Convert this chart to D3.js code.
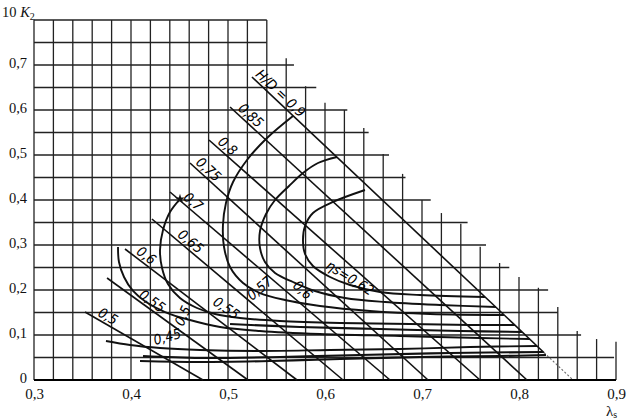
<!DOCTYPE html>
<html><head><meta charset="utf-8">
<script src="https://cdn.jsdelivr.net/npm/d3@7"></script>
<style>body{margin:0;background:#fff}svg{display:block}</style>
</head><body><svg id="c" width="630" height="420"></svg>
<script>
// ---- axis ticks ----
const xTickValues = [0.3, 0.4, 0.5, 0.6, 0.7, 0.8, 0.9];
const xTickLabels = ["0,3", "0,4", "0,5", "0,6", "0,7", "0,8", "0,9"];
const yTickValues = [0, 0.1, 0.2, 0.3, 0.4, 0.5, 0.6, 0.7];
const yTickLabels = ["0", "0,1", "0,2", "0,3", "0,4", "0,5", "0,6", "0,7"];

// ---- stepped grid ----
const gridX = [0.30,0.32,0.34,0.36,0.38,0.40,0.42,0.44,0.46,0.48,0.50,0.52,0.54,
               0.56,0.58,0.60,0.62,0.64,0.66,0.68,0.70,0.72,0.74,0.76,0.78,0.80,0.82,0.84,0.86,0.88,0.90];
const gridXTop = [0.8,0.8,0.8,0.8,0.8,0.8,0.8,0.8,0.8,0.8,0.8,0.8,0.8,
                  0.715,0.653,0.616,0.60,0.56,0.502,0.458,0.40,0.371,0.347,0.296,0.26,0.229,0.205,0.162,0.109,0.091,0.085];
const gridY = [0,0.05,0.10,0.15,0.20,0.25,0.30,0.35,0.40,0.45,0.50,0.55,0.60,0.65,0.70,0.75,0.80];
const gridYEnd = [0.9,0.898,0.864,0.84,0.83,0.79,0.766,0.747,0.709,0.683,0.666,0.645,0.623,0.591,0.568,0.54,0.54];

// ---- H/D lines ----
const hdValues = [0.9, 0.85, 0.8, 0.75, 0.7, 0.65, 0.6, 0.55, 0.5];
const hdLabels = ["H/D = 0,9", "0,85", "0,8", "0,75", "0,7", "0,65", "0,6", "0,55", "0,5"];
const hdStart = [[0.5247,0.6733],[0.5021,0.6067],[0.4804,0.5333],[0.4608,0.4822],[0.4402,0.4178],
                 [0.4216,0.3578],[0.3938,0.2911],[0.3753,0.2267],[0.3526,0.1511]];
const hdEnd = [[0.8557,0],[0.8082,0],[0.7598,0],[0.7062,0],[0.6670,0],[0.6186,0],[0.5711,0],[0.5206,0],[0.4742,0]];

// ---- efficiency (eta_s) curves ----
const eta062 = [[0.6412,0.4222],[0.6082,0.3956],[0.5876,0.3711],[0.5794,0.3422],[0.5773,0.3111],[0.5794,0.2800],
                [0.5876,0.2533],[0.6052,0.2289],[0.6258,0.2111],[0.6567,0.1956],[0.6979,0.1889],[0.7649,0.1844]];
const eta060 = [[0.6124,0.4956],[0.5928,0.4822],[0.5773,0.4600],[0.5629,0.4311],[0.5485,0.4000],[0.5392,0.3689],
                [0.5330,0.3311],[0.5330,0.2933],[0.5381,0.2622],[0.5485,0.2378],[0.5670,0.2178],[0.5897,0.1978],
                [0.6206,0.1822],[0.6619,0.1733],[0.7186,0.1667],[0.7763,0.1622]];
const eta057 = [[0.5670,0.5867],[0.5402,0.5378],[0.5196,0.4889],[0.5052,0.4400],[0.4979,0.3933],[0.4948,0.3444],
                [0.4959,0.2956],[0.5021,0.2511],[0.5155,0.2156],[0.5330,0.1933],[0.5588,0.1778],[0.5948,0.1644],
                [0.6464,0.1533],[0.7082,0.1467],[0.7845,0.1444]];
const eta055 = [[0.4505,0.4022],[0.4402,0.3733],[0.4330,0.3333],[0.4299,0.2889],[0.4320,0.2489],[0.4381,0.2133],
                [0.4505,0.1822],[0.4680,0.1600],[0.4866,0.1467],[0.5124,0.1378],[0.5536,0.1311],[0.6155,0.1267],
                [0.6876,0.1244],[0.7495,0.1222],[0.7959,0.1222]];
const eta050 = [[0.3866,0.2956],[0.3876,0.2622],[0.3928,0.2289],[0.4021,0.1978],[0.4155,0.1733],[0.4351,0.1511],
                [0.4608,0.1333],[0.4918,0.1178],[0.5330,0.1089],[0.5948,0.1022],[0.6773,0.0978],[0.7598,0.0933],[0.8113,0.0911]];
const eta045 = [[0.3742,0.0867],[0.3990,0.0778],[0.4299,0.0711],[0.4711,0.0667],[0.5330,0.0644],[0.6052,0.0667],
                [0.6773,0.0689],[0.7495,0.0733],[0.8186,0.0756]];
const extraA = [[0.5021,0.1244],[0.5742,0.1178],[0.6567,0.1133],[0.7392,0.1089],[0.8031,0.1067]];
const extraB = [[0.4124,0.0533],[0.4711,0.0489],[0.5536,0.0511],[0.6361,0.0556],[0.7289,0.0600],[0.8247,0.0622]];
const extraC = [[0.4093,0.0422],[0.4711,0.0400],[0.5433,0.0422],[0.6155,0.0467],[0.6979,0.0511],[0.7804,0.0533],[0.8278,0.0556]];
const etaLabelText = ["ηs=0,62", "0,6", "0,57", "0,55", "0,5", "0,45"];
const etaLabelAt = [[0.600,0.249],[0.566,0.207],[0.5247,0.1756],[0.4835,0.169],[0.4536,0.1178],[0.4247,0.0778]];
const markerPoint = [0.4505, 0.4022];

// ---- drawing ----
const svg = d3.select("#c");
const x = d3.scaleLinear().domain([0.3, 0.9]).range([34, 616]);
const y = d3.scaleLinear().domain([0, 0.8]).range([380, 20]);

const serif = "'Liberation Serif','Times New Roman',serif";
const narrow = "'Liberation Sans Narrow','DejaVu Sans Condensed',sans-serif";

const g = svg.append("g");
// vertical grid lines
g.selectAll("line.vx").data(gridX).enter().append("line")
  .attr("x1", d => x(d)).attr("x2", d => x(d))
  .attr("y1", y(0)).attr("y2", (d, i) => y(gridXTop[i]))
  .attr("stroke", "#222").attr("stroke-width", 1.3);
// horizontal grid lines
g.selectAll("line.hy").data(gridY).enter().append("line")
  .attr("y1", d => y(d)).attr("y2", d => y(d))
  .attr("x1", x(0.3)).attr("x2", (d, i) => x(gridYEnd[i]))
  .attr("stroke", "#222").attr("stroke-width", 1.3);
// baseline emphasis
g.append("line").attr("x1", x(0.3)).attr("x2", x(0.9)).attr("y1", y(0)).attr("y2", y(0))
  .attr("stroke", "#000").attr("stroke-width", 1.8);

// axes (labels only)
const ax = svg.append("g").attr("transform", `translate(0,${y(0)})`)
  .call(d3.axisBottom(x).tickValues(xTickValues).tickSize(0).tickPadding(8)
        .tickFormat((d, i) => xTickLabels[i]));
ax.select(".domain").remove();
ax.selectAll("text").attr("font-family", serif).attr("font-size", 15).attr("fill", "#111");

const ay = svg.append("g").attr("transform", `translate(${x(0.3)},0)`)
  .call(d3.axisLeft(y).tickValues(yTickValues).tickSize(0).tickPadding(7)
        .tickFormat((d, i) => yTickLabels[i]));
ay.select(".domain").remove();
ay.selectAll("text").attr("font-family", serif).attr("font-size", 14.5).attr("fill", "#111").attr("dy", "0.2em");

// axis titles
const t1 = svg.append("text").attr("x", 2).attr("y", 17).attr("font-family", serif).attr("font-size", 14.5).attr("fill", "#111");
t1.append("tspan").text("10 ");
t1.append("tspan").attr("font-style", "italic").text("K");
t1.append("tspan").attr("font-size", 10).attr("dy", 3).text("2");
const t2 = svg.append("text").attr("x", 606).attr("y", 416).attr("font-family", serif).attr("font-size", 15).attr("fill", "#111");
t2.append("tspan").text("λ");
t2.append("tspan").attr("font-size", 10).attr("dy", 2).text("s");

// H/D lines
const hdLabelAlong = [1, 7, 8, 4, 14, 30, 11, 36, 12];
hdValues.forEach((v, i) => {
  const p0 = [x(hdStart[i][0]), y(hdStart[i][1])];
  const p1 = [x(hdEnd[i][0]), y(hdEnd[i][1])];
  const dx = p1[0] - p0[0], dy = p1[1] - p0[1];
  const len = Math.hypot(dx, dy);
  const ux = dx / len, uy = dy / len;
  if (i === 0) {
    const cut = 0.09; // fraction of line drawn faint/dashed near the bottom
    const pm = [p1[0] - dx * cut, p1[1] - dy * cut];
    svg.append("line").attr("x1", p0[0]).attr("y1", p0[1]).attr("x2", pm[0]).attr("y2", pm[1])
      .attr("stroke", "#111").attr("stroke-width", 1.6);
    svg.append("line").attr("x1", pm[0]).attr("y1", pm[1]).attr("x2", p1[0]).attr("y2", p1[1])
      .attr("stroke", "#666").attr("stroke-width", 1.1).attr("stroke-dasharray", "2,2");
  } else {
    svg.append("line").attr("x1", p0[0]).attr("y1", p0[1]).attr("x2", p1[0]).attr("y2", p1[1])
      .attr("stroke", "#111").attr("stroke-width", 1.6);
  }
  const ang = Math.atan2(dy, dx) * 180 / Math.PI;
  const d = hdLabelAlong[i], off = 3;
  const lx = p0[0] + ux * d + uy * off, ly = p0[1] + uy * d - ux * off;
  svg.append("text").attr("x", lx).attr("y", ly)
    .attr("transform", `rotate(${ang},${lx},${ly})`)
    .attr("font-family", narrow).attr("font-style", "italic").attr("font-size", 14)
    .attr("fill", "#000").text(hdLabels[i]);
});

// eta curves
const line = d3.line().x(d => x(d[0])).y(d => y(d[1])).curve(d3.curveCatmullRom.alpha(0.5));
[eta062, eta060, eta057, eta055, eta050, eta045].forEach(c => {
  svg.append("path").attr("d", line(c)).attr("fill", "none").attr("stroke", "#111").attr("stroke-width", 1.9);
});
[extraA, extraB, extraC].forEach(c => {
  svg.append("path").attr("d", line(c)).attr("fill", "none").attr("stroke", "#111").attr("stroke-width", 2.1);
});

// marker
svg.append("path").attr("d", d3.symbol(d3.symbolStar, 30)())
  .attr("transform", `translate(${x(markerPoint[0])},${y(markerPoint[1])})`).attr("fill", "#111");

// eta labels
const etaLabelAngle = [32, 42, -40, 35, -65, -15];
etaLabelText.forEach((t, i) => {
  const lx = x(etaLabelAt[i][0]), ly = y(etaLabelAt[i][1]);
  svg.append("text").attr("x", lx).attr("y", ly)
    .attr("transform", `rotate(${etaLabelAngle[i]},${lx},${ly})`)
    .attr("font-family", narrow).attr("font-style", "italic").attr("font-size", 14)
    .attr("fill", "#000").text(t);
});
</script></body></html>
